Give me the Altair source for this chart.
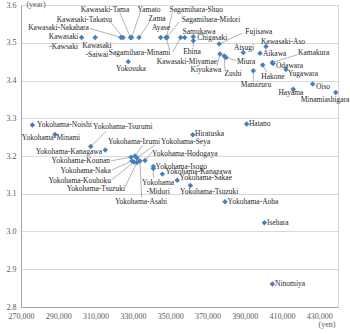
import altair as alt
import pandas as pd

# ---- data ----
names = [
    "Kawasaki-Kawasaki", "Kawasaki-Saiwai", "Kawasaki-Nakahara", "Kawasaki-Takatsu",
    "Kawasaki-Tama", "Yamato", "Zama", "Ayase", "Sagamihara-Minami", "Sagamihara-Shuo",
    "Sagamihara-Midori", "Kawasaki-Miyamae", "Samukawa", "Chigasaki", "Ebina", "Yokosuka",
    "Fujisawa", "Kawasaki-Aso", "Atsugi", "Aikawa", "Kiyokawa", "Zushi", "Miura",
    "Kamakura", "Odawara", "Hakone", "Yugawara", "Manazuru", "Oiso", "Hayama",
    "Minamiashigara", "Hatano", "Hiratuska", "Yokohama-Noishi", "Yokohama-Minami",
    "Yokohama-Tsurumi", "Yokohama-Kanagawa", "Yokohama-Izumi", "Yokohama-Kounan",
    "Yokohama-Seya", "Yokohama-Hodogaya", "Yokohama-Naka", "Yokohama-Asahi",
    "Yokohama-Kouhoku", "Yokohama-Tsuzuki", "Yokohama-Isogo", "Yokohama-Midori",
    "Yokohama-Kanazawa", "Yokohama-Sakae", "Yokohama-Tsuzuki", "Yokohama-Aoba",
    "Isehara", "Ninomiya",
]
income_yen = [
    302500, 309800, 323600, 324700, 328700, 329300, 333300, 344900, 347800, 348000,
    348300, 355600, 357800, 362400, 362400, 327500, 376300, 401400, 389200, 398200,
    376700, 379000, 379900, 404800, 405100, 399600, 412100, 394600, 426400, 416000,
    438800, 391000, 362100, 276100, 288200, 307400, 315200, 331100, 329000, 332200,
    336500, 329500, 333800, 330600, 332200, 341000, 341000, 345800, 353800, 360800,
    379400, 400500, 404800,
]
years = [
    3.514, 3.514, 3.514, 3.514, 3.514, 3.514, 3.514, 3.514, 3.514, 3.514,
    3.514, 3.514, 3.514, 3.516, 3.505, 3.450, 3.497, 3.490, 3.474, 3.472,
    3.470, 3.465, 3.461, 3.448, 3.445, 3.441, 3.429, 3.426, 3.391, 3.377,
    3.368, 3.285, 3.256, 3.282, 3.257, 3.225, 3.216, 3.200, 3.197, 3.195,
    3.188, 3.187, 3.187, 3.184, 3.183, 3.172, 3.167, 3.152, 3.136, 3.122,
    3.079, 3.023, 2.861,
]
x_ticks = [270000, 290000, 310000, 330000, 350000, 370000, 390000, 410000, 430000]
y_ticks = [2.8, 2.9, 3.0, 3.1, 3.2, 3.3, 3.4, 3.5, 3.6]

# ---- label layout: (point index, text, offset px x, offset px y, align) ----
labels = [
    (0, "Kawasaki", -18, 0, "center"), (0, "-Kawsaki", -18, 10, "center"),
    (1, "Kawasaki", 1.7, 9, "center"), (1, "-Saiwai", 1.7, 18, "center"),
    (2, "Kawasaki-Nakahara", -32, -9.5, "right"),
    (3, "Kawasaki-Takatsu", -11, -17.5, "right"),
    (4, "Kawasaki-Tama", -25.5, -27.5, "center"),
    (5, "Yamato", 17.5, -27.5, "center"),
    (6, "Zama", 18, -18.5, "center"),
    (7, "Ayase", 0.3, -9.5, "center"),
    (8, "Sagamihara-Minami", -26.5, 15.5, "center"),
    (9, "Sagamihara-Shuo", 29.8, -27.5, "center"),
    (10, "Sagamihara-Midori", 44, -17.5, "center"),
    (11, "Kawasaki-Miyamae", 6.3, 24.5, "center"),
    (12, "Samukawa", 14.3, -5.5, "center"),
    (13, "Chigasaki", 4, 1.5, "left"),
    (14, "Ebina", -1.3, 11.3, "center"),
    (15, "Yokosuka", 2.7, 7.3, "center"),
    (16, "Fujisawa", 39.7, -12, "center"),
    (17, "Kawasaki-Aso", 17, -4.7, "center"),
    (18, "Atsugi", 0.7, -4.7, "center"),
    (19, "Aikawa", 3, 0.7, "left"),
    (20, "Kiyokawa", -14, 15.5, "center"),
    (21, "Zushi", 8.7, 18, "center"),
    (22, "Miura", 11, 4.7, "left"),
    (23, "Kamakura", 25.7, -9.5, "left"),
    (24, "Odawara", 3, 2.5, "left"),
    (25, "Hakone", 10.3, 11.5, "center"),
    (26, "Yugawara", 2, 4.5, "left"),
    (27, "Manazuru", 2.7, 14.5, "center"),
    (28, "Oiso", 3.3, 3.5, "left"),
    (29, "Hayama", -2.3, 3.7, "center"),
    (30, "Minamiashigara", -10.7, 7.3, "center"),
    (31, "Hatano", 2.3, 0.3, "left"),
    (32, "Hiratuska", 2.3, -0.5, "left"),
    (33, "Yokohama-Noishi", 4.7, 0, "left"),
    (34, "Yokohama-Minami", -4, 4, "center"),
    (35, "Yokohama-Tsurumi", 2.3, -19.4, "left"),
    (36, "Yokohama-Kanagawa", -3.3, 2.5, "right"),
    (37, "Yokohama-Izumi", -27, -14, "left"),
    (38, "Yokohama-Kounan", -21, 3.5, "right"),
    (39, "Yokohama-Seya", 24, -16, "left"),
    (40, "Yokohama-Hodogaya", 7, -7, "left"),
    (41, "Yokohama-Naka", -21, 10, "right"),
    (42, "Yokohama-Asahi", 1, 40.7, "center"),
    (43, "Yokohama-Kouhoku", -23, 19, "right"),
    (44, "Yokohama-Tsuzuki", -12, 27, "right"),
    (45, "Yokohama-Isogo", 2.2, 0.2, "left"),
    (46, "Yokohama", 4.7, 14.2, "center"), (46, "-Midori", 4.7, 23.2, "center"),
    (47, "Yokohama-Kanazawa", 3.2, -1.7, "left"),
    (48, "Yokohama-Sakae", 2.2, -1.7, "left"),
    (49, "Yokohama-Tsuzuki", -10.3, 7, "left"),
    (50, "Yokohama-Aoba", 2.5, 0.3, "left"),
    (51, "Isehara", 2.7, 0.3, "left"),
    (52, "Ninomiya", 2.7, 0, "left"),
]
# leader lines: (point index, start offset px x, start offset px y)
leaders = [
    (2, -31, -9), (3, -12, -15), (4, -10.5, -24.5), (5, 8.5, -24.5), (6, 11, -16),
    (8, 3.5, 12.5), (9, 5.8, -24.5), (10, 12, -15.5), (11, -7.7, 14.5), (14, 0, 6.3),
    (16, 22.7, -10.5), (20, -3, 12), (21, 0.7, 14), (22, 10.5, 3.2), (23, 24.7, -7.5),
    (25, 4.3, 7.5), (27, 0, 10.5), (35, 15.3, -15.2), (37, 8, -11), (39, 18, -13),
    (40, 7, -8.5), (38, -20, 3.7), (41, -20, 9), (43, -22, 17.5), (44, -12, 24.5),
    (42, 1.7, 36.5), (46, 0, 9.5),
]

W, H = 317, 302
XMIN, XMAX, YMIN, YMAX = 270000, 440000, 2.8, 3.6
PX = (XMAX - XMIN) / W
PY = (YMAX - YMIN) / H

pts = pd.DataFrame({"name": names, "x": income_yen, "y": years})
lab = pd.DataFrame(
    [
        {"text": t, "lx": income_yen[i] + dx * PX, "ly": years[i] - dy * PY, "align": a}
        for i, t, dx, dy, a in labels
    ]
)
lead = pd.DataFrame(
    [
        {"x1": income_yen[i] + dx * PX, "y1": years[i] - dy * PY,
         "x2": income_yen[i], "y2": years[i]}
        for i, dx, dy in leaders
    ]
)

FONT = "Liberation Serif"
xs = alt.Scale(domain=[XMIN, XMAX], nice=False, zero=False)
ys = alt.Scale(domain=[YMIN, YMAX], nice=False, zero=False)

xaxis = alt.Axis(values=x_ticks, format=",d", title=None, grid=False, ticks=False,
                 labelOverlap=False, labelFlush=False, labelPadding=5)
yaxis = alt.Axis(values=y_ticks, format=".1f", title=None, grid=True,
                 ticks=False, labelOverlap=False, labelFlush=False, labelPadding=5)

base_pts = alt.Chart(pts).mark_point(
    shape="diamond", filled=True, size=30, color="#4a7ebb", opacity=1
).encode(
    x=alt.X("x:Q", scale=xs, axis=xaxis),
    y=alt.Y("y:Q", scale=ys, axis=yaxis),
)

rules = alt.Chart(lead).mark_rule(color="#808080", strokeWidth=0.6).encode(
    x=alt.X("x1:Q", scale=xs, axis=xaxis), y=alt.Y("y1:Q", scale=ys, axis=yaxis),
    x2="x2:Q", y2="y2:Q"
)

text_layers = []
for a in ["left", "center", "right"]:
    text_layers.append(
        alt.Chart(lab[lab["align"] == a]).mark_text(
            align=a, baseline="middle", font=FONT, fontSize=7.5, color="#262626"
        ).encode(x=alt.X("lx:Q", scale=xs, axis=xaxis),
                 y=alt.Y("ly:Q", scale=ys, axis=yaxis), text="text:N")
    )

unit_y = alt.Chart(pd.DataFrame({"t": ["(year)"]})).mark_text(
    font=FONT, fontSize=8, color="#595959", align="center", baseline="middle"
).encode(x=alt.value(15), y=alt.value(0), text="t:N")
unit_x = alt.Chart(pd.DataFrame({"t": ["(yen)"]})).mark_text(
    font=FONT, fontSize=8, color="#595959", align="center", baseline="middle"
).encode(x=alt.value(306), y=alt.value(320), text="t:N")

chart = alt.layer(rules, base_pts, *text_layers, unit_y, unit_x).properties(
    width=W, height=H, autosize=alt.AutoSizeParams(type="none"),
    padding={"left": 21, "top": 5, "right": 12, "bottom": 27},
    background="white",
).configure_view(stroke="#d9d9d9").configure_axis(
    labelFont=FONT, labelFontSize=8, labelColor="#595959",
    domainColor="#a6a6a6", gridColor="#d9d9d9",
)

chart.save("out.html", embed_options={"renderer": "svg", "actions": False})
